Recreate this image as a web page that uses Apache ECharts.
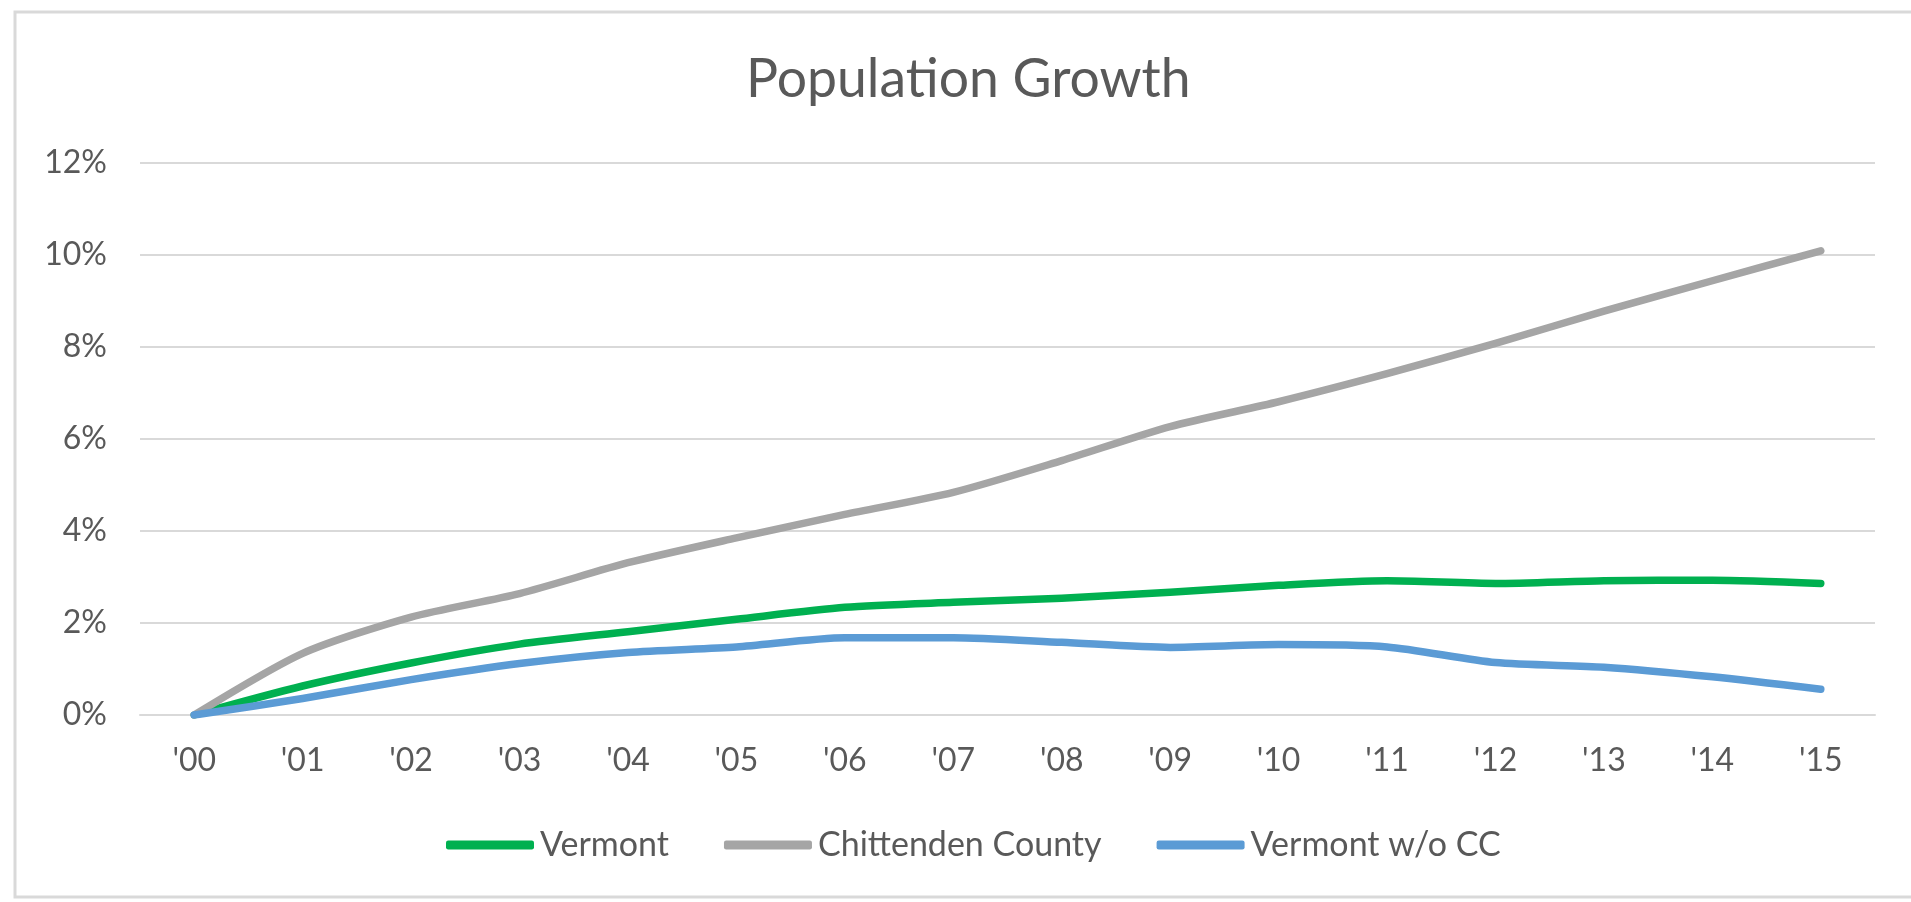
<!DOCTYPE html>
<html>
<head>
<meta charset="utf-8">
<script src="https://cdn.jsdelivr.net/npm/echarts@6/dist/echarts.min.js"></script>
<style>
html,body{margin:0;padding:0;background:#fff;}
#chart{width:1911px;height:902px;}
</style>
</head>
<body>
<div id="chart"></div>
<script>
const years = ["'00","'01","'02","'03","'04","'05","'06","'07","'08","'09","'10","'11","'12","'13","'14","'15"];
const vermont = [0, 0.63, 1.13, 1.54, 1.81, 2.08, 2.34, 2.45, 2.54, 2.67, 2.82, 2.92, 2.86, 2.92, 2.93, 2.86];
const chittenden = [0, 1.34, 2.13, 2.64, 3.31, 3.85, 4.36, 4.84, 5.53, 6.27, 6.81, 7.42, 8.08, 8.78, 9.44, 10.09];
const vermontWoCC = [0, 0.36, 0.77, 1.12, 1.36, 1.48, 1.68, 1.68, 1.58, 1.47, 1.53, 1.48, 1.14, 1.04, 0.83, 0.56];
const seriesNames = ['Vermont', 'Chittenden County', 'Vermont w/o CC'];
const colors = ['#00B050', '#A5A5A5', '#5B9BD5'];
const yTicks = { min: 0, max: 12, interval: 2 };

const FONT = 'Lato';
const TEXT = '#595959';
const chart = echarts.init(document.getElementById('chart'), null, { renderer: 'canvas' });

function lineSeries(name, data, color) {
  return {
    name: name,
    type: 'line',
    data: data,
    smooth: 0.25,
    symbol: 'none',
    lineStyle: { color: color, width: 7.5, cap: 'round', join: 'round' },
    itemStyle: { color: color }
  };
}

chart.setOption({
  animation: false,
  backgroundColor: '#ffffff',
  graphic: [{
    type: 'rect',
    shape: { x: 15, y: 12, width: 2000, height: 885 },
    style: { fill: 'none', stroke: '#d9d9d9', lineWidth: 3 },
    silent: true
  }],
  title: {
    text: 'Population Growth',
    left: 741,
    top: 48,
    textStyle: { fontFamily: FONT, fontWeight: 'normal', fontSize: 53.5, color: TEXT }
  },
  legend: {
    left: 441,
    top: 823,
    itemWidth: 88,
    itemHeight: 9,
    itemGap: 55,
    icon: 'roundRect',
    textStyle: { fontFamily: FONT, fontSize: 34, color: TEXT, padding: [0, 0, 0, 1] },
    data: seriesNames
  },
  grid: { left: 140, right: 36, top: 163, bottom: 187, containLabel: false },
  xAxis: {
    type: 'category',
    data: years,
    boundaryGap: true,
    axisLine: { show: true, lineStyle: { color: '#d9d9d9', width: 2 } },
    axisTick: { show: false },
    axisLabel: { fontFamily: FONT, fontSize: 32, color: TEXT, margin: 30 }
  },
  yAxis: {
    type: 'value',
    min: yTicks.min,
    max: yTicks.max,
    interval: yTicks.interval,
    axisLine: { show: false },
    axisTick: { show: false },
    splitLine: { lineStyle: { color: '#d9d9d9', width: 2 } },
    axisLabel: { fontFamily: FONT, fontSize: 32, color: TEXT, margin: 33, formatter: '{value}%' }
  },
  series: [
    lineSeries(seriesNames[0], vermont, colors[0]),
    lineSeries(seriesNames[1], chittenden, colors[1]),
    lineSeries(seriesNames[2], vermontWoCC, colors[2])
  ]
});
</script>
</body>
</html>
